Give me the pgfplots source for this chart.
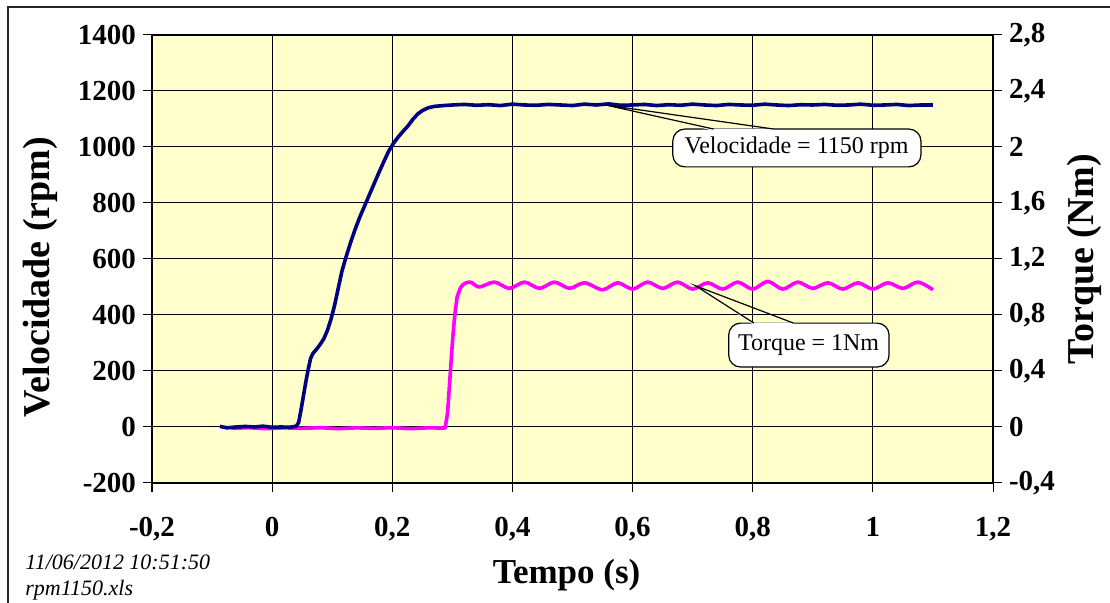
\documentclass[border=0pt]{standalone}
\usepackage{pgfplots}
\pgfplotsset{compat=1.18}
\usepackage{fontspec}
\setmainfont{Liberation Serif}
\definecolor{plotbg}{HTML}{FFFFCC}
\definecolor{vel}{HTML}{000080}
\definecolor{torq}{HTML}{FF00FF}

\pgfplotsset{
  common/.style={
    at={(76pt,60pt)}, anchor=south west, scale only axis,
    width=420.5pt, height=224pt,
    xmin=-0.2, xmax=1.2,
    xtick={-0.2,0,0.2,0.4,0.6,0.8,1,1.2},
    tick align=outside, major tick length=4.5pt,
    tick style={black, line width=0.5pt},
    axis line style={black, line width=0.6pt},
    tick label style={font=\fontsize{14.5}{14.5}\selectfont\bfseries},
    label style={font=\fontsize{19}{19}\selectfont\bfseries},
  },
}

\begin{document}
\begin{tikzpicture}
\path[use as bounding box] (0,0) rectangle (555pt,301.5pt);
\draw[line width=0.8pt, black!85] (4pt,0) -- (4pt,298pt) -- (555pt,298pt);

% torque axis (right), drawn first: background + grid
\begin{axis}[
  common,
  ymin=-0.4, ymax=2.8,
  ytick={-0.4,0,0.4,0.8,1.2,1.6,2,2.4,2.8},
  yticklabels={{-0,4},{0},{0,4},{0,8},{1,2},{1,6},{2},{2,4},{2,8}},
  xticklabels={},
  ytick pos=right, xtick pos=bottom,
  grid=major, grid style={black, line width=0.5pt},
  axis background/.style={fill=plotbg},
  ylabel={Torque (Nm)},
  ylabel style={at={(axis description cs:1.109,0.5)}, anchor=center},
]
\addplot[torq, line width=1.8pt, line join=round] coordinates {
  (-0.068,-0.01) (-0.04,-0.005) (-0.01,-0.012) (0.02,-0.006) (0.05,-0.01)
  (0.08,-0.005) (0.11,-0.012) (0.14,-0.006) (0.17,-0.01) (0.2,-0.005)
  (0.23,-0.012) (0.26,-0.006) (0.288,-0.008) (0.292,0.1) (0.296,0.35)
  (0.3,0.6) (0.304,0.8) (0.308,0.93) (0.313,0.99) (0.318,1.02)
};
\addplot[torq, line width=1.8pt, smooth, line join=round] coordinates {
  (0.318,1.02) (0.33,1.035) (0.345,1.0) (0.37,1.035) (0.395,0.99)
  (0.42,1.035) (0.445,0.99) (0.47,1.035) (0.495,0.99) (0.52,1.03)
  (0.55,0.98) (0.575,1.03) (0.6,0.985) (0.625,1.035) (0.65,0.99)
  (0.675,1.035) (0.7,0.985) (0.725,1.03) (0.75,0.985) (0.775,1.035)
  (0.8,0.985) (0.825,1.04) (0.85,0.985) (0.875,1.035) (0.9,0.99)
  (0.925,1.03) (0.95,0.985) (0.975,1.03) (1.0,0.985) (1.025,1.03)
  (1.05,0.99) (1.075,1.035) (1.1,0.98)
};
\end{axis}

% velocity axis (left)
\begin{axis}[
  common,
  ymin=-200, ymax=1400,
  ytick={-200,0,200,400,600,800,1000,1200,1400},
  yticklabels={{-200},{0},{200},{400},{600},{800},{1000},{1200},{1400}},
  xticklabels={{-0,2},{0},{0,2},{0,4},{0,6},{0,8},{1},{1,2}},
  xticklabel style={yshift=-9pt},
  ytick pos=left, xtick pos=bottom,
  xlabel={Tempo (s)}, ylabel={Velocidade (rpm)},
  xlabel style={at={(axis description cs:0.493,-0.205)}, anchor=center, font=\fontsize{17.5}{17.5}\selectfont\bfseries},
  ylabel style={at={(axis description cs:-0.133,0.46)}, anchor=center},
  clip=false,
]
\addplot[vel, line width=1.8pt, line join=round] coordinates {
  (-0.087,2) (-0.075,-3) (-0.06,0) (-0.045,2) (-0.03,0) (-0.015,3) (0,-1)
  (0.015,0) (0.03,-1) (0.04,3) (0.044,15) (0.048,60) (0.052,110) (0.056,160)
  (0.06,205) (0.064,245) (0.068,263) (0.074,278) (0.08,295) (0.086,315)
  (0.092,345) (0.098,385) (0.104,435) (0.11,495) (0.116,555) (0.122,600)
  (0.13,655) (0.138,705) (0.146,750) (0.154,790) (0.162,830) (0.17,870)
  (0.178,910) (0.186,948) (0.194,985) (0.202,1013) (0.21,1036) (0.218,1056)
  (0.226,1075) (0.234,1098) (0.242,1117) (0.25,1130) (0.26,1140) (0.27,1145)
  (0.285,1148) (0.3,1150) (0.32,1152) (0.34,1149) (0.36,1151) (0.38,1148)
  (0.4,1153) (0.42,1150) (0.44,1149) (0.46,1152) (0.48,1150) (0.5,1148)
  (0.52,1153) (0.54,1150) (0.56,1154) (0.58,1149) (0.6,1150) (0.62,1152)
  (0.64,1148) (0.66,1151) (0.68,1149) (0.7,1153) (0.72,1150) (0.74,1148)
  (0.76,1152) (0.78,1150) (0.8,1149) (0.82,1153) (0.84,1150) (0.86,1148)
  (0.88,1151) (0.9,1150) (0.92,1152) (0.94,1149) (0.96,1150) (0.98,1153)
  (1.0,1149) (1.02,1150) (1.04,1152) (1.06,1148) (1.08,1150) (1.1,1150)
};

% callout: velocity
\draw[fill=white, rounded corners=6pt, line width=0.6pt]
  (axis cs:0.667,929) rectangle (axis cs:1.08,1064);
\fill[white] (axis cs:0.555,1150) -- (axis cs:0.735,1066) -- (axis cs:0.835,1066) -- (axis cs:0.835,1058) -- (axis cs:0.735,1058) -- cycle;
\draw[line width=0.6pt] (axis cs:0.735,1064) -- (axis cs:0.555,1150) -- (axis cs:0.835,1064);
\node[font=\fontsize{12}{12}\selectfont] at (axis cs:0.873,996) {Velocidade = 1150 rpm};

% callout: torque
\draw[fill=white, rounded corners=6pt, line width=0.6pt]
  (axis cs:0.76,214) rectangle (axis cs:1.027,371);
\fill[white] (axis cs:0.705,504) -- (axis cs:0.802,373) -- (axis cs:0.868,373) -- (axis cs:0.868,364) -- (axis cs:0.802,364) -- cycle;
\draw[line width=0.6pt] (axis cs:0.802,371) -- (axis cs:0.705,504) -- (axis cs:0.868,371);
\node[font=\fontsize{12}{12}\selectfont] at (axis cs:0.893,292) {Torque = 1Nm};
\end{axis}

\node[anchor=base west, inner sep=0pt, font=\fontsize{11}{11}\selectfont\itshape] at (12.5pt,16.5pt) {11/06/2012 10:51:50};
\node[anchor=base west, inner sep=0pt, font=\fontsize{11}{11}\selectfont\itshape] at (12.5pt,3.5pt) {rpm1150.xls};
\end{tikzpicture}
\end{document}
